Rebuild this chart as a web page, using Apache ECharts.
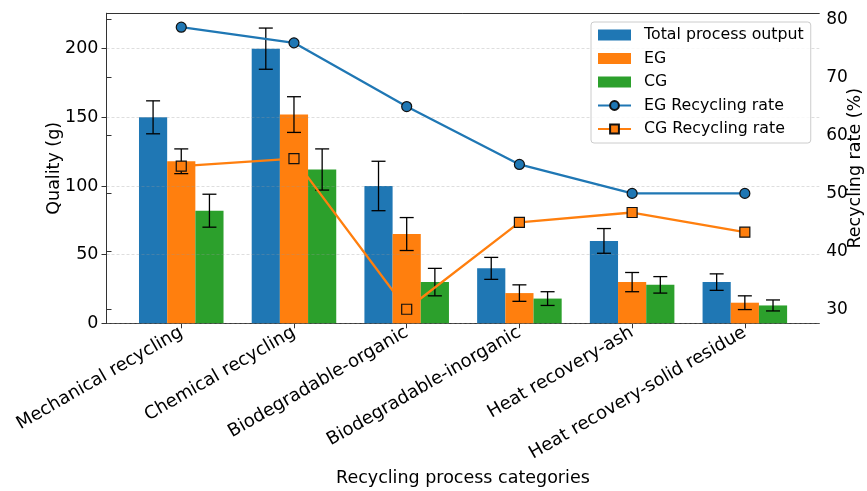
<!DOCTYPE html>
<html>
<head>
<meta charset="utf-8">
<script src="https://cdn.jsdelivr.net/npm/echarts@6/dist/echarts.min.js"></script>
<style>
  html, body { margin: 0; padding: 0; background: #fff; }
  #chart { width: 867px; height: 491px; }
</style>
</head>
<body>
<div id="chart"></div>
<script>
  const categories = ['Mechanical recycling', 'Chemical recycling', 'Biodegradable-organic',
    'Biodegradable-inorganic', 'Heat recovery-ash', 'Heat recovery-solid residue'];

  const totalOutput = [150, 200, 100, 40, 60, 30];
  const totalErr = [12, 15, 18, 8, 9, 6];
  const egValues = [118, 152, 65, 22, 30, 15];
  const egErr = [9, 13, 12, 6, 7, 5];
  const cgValues = [82, 112, 30, 18, 28, 13];
  const cgErr = [12, 15, 10, 5, 6, 4];

  const egRate = [78.7, 76, 65, 55, 50, 50];
  const cgRate = [54.7, 56, 30, 45, 46.7, 43.3];

  const leftTicks = [0, 50, 100, 150, 200];
  const rightTicks = [30, 40, 50, 60, 70, 80];

  const FONT = 'DejaVu Sans';
  const AXIS_COLOR = '#333';
  const leftMax = 225.75;
  const rightMin = 27.57, rightMax = 81.1;

  function errData(vals, errs){
    return vals.map((v, i) => [i, v - errs[i], v + errs[i]]);
  }

  // slot: -1 / 0 / 1 for the three bars of a group (each bar 25% of the band)
  function errRenderer(slot){
    return function(params, api){
      const band = api.size([1, 0])[0];
      const lo = api.coord([api.value(0), api.value(1)]);
      const hi = api.coord([api.value(0), api.value(2)]);
      const x = lo[0] + slot * band * 0.25;
      const cap = 7;
      const style = { stroke: '#000', lineWidth: 1.3 };
      return {
        type: 'group',
        children: [
          { type: 'line', shape: { x1: x, y1: lo[1], x2: x, y2: hi[1] }, style },
          { type: 'line', shape: { x1: x - cap, y1: hi[1], x2: x + cap, y2: hi[1] }, style },
          { type: 'line', shape: { x1: x - cap, y1: lo[1], x2: x + cap, y2: lo[1] }, style }
        ]
      };
    };
  }

  function errSeries(name, vals, errs, slot){
    return {
      name: name,
      type: 'custom',
      xAxisIndex: 2,
      yAxisIndex: 2,
      z: 3,
      renderItem: errRenderer(slot),
      encode: { x: 0, y: [1, 2] },
      data: errData(vals, errs),
      silent: true
    };
  }

  const chart = echarts.init(document.getElementById('chart'), null, { renderer: 'canvas' });

  const option = {
    backgroundColor: '#fff',
    animation: false,
    textStyle: { fontFamily: FONT },
    grid: [
      { left: 106.5, right: 47.7, top: 13.3, bottom: 167.7, outerBoundsMode: 'none', containLabel: false },
      { left: 124.9, right: 65.8, top: 13.3, bottom: 167.7, outerBoundsMode: 'none', containLabel: false }
    ],
    legend: {
      orient: 'vertical',
      left: 591,
      top: 22,
      padding: [5, 7, 6, 6],
      itemGap: 7.5,
      itemWidth: 33,
      itemHeight: 11,
      backgroundColor: 'rgba(255,255,255,0.8)',
      borderColor: '#ccc',
      borderWidth: 1,
      borderRadius: 3,
      z: 10,
      data: [
        { name: 'Total process output', icon: 'rect' },
        { name: 'EG', icon: 'rect' },
        { name: 'CG', icon: 'rect' },
        { name: 'EG Recycling rate' },
        { name: 'CG Recycling rate' }
      ],
      textStyle: { fontFamily: FONT, fontSize: 15.8, color: '#000', lineHeight: 16, padding: [0, 0, 0, 8] }
    },
    xAxis: [
      {
        gridIndex: 0, type: 'value', min: 0, max: 1, position: 'bottom',
        axisLine: { show: true, lineStyle: { color: AXIS_COLOR, width: 1 } },
        axisTick: { show: false }, axisLabel: { show: false }, splitLine: { show: false },
        name: 'Recycling process categories', nameLocation: 'middle', nameGap: 146,
        nameMoveOverlap: false,
        nameTextStyle: { fontFamily: FONT, fontSize: 17.5, color: '#000' }
      },
      {
        gridIndex: 0, type: 'value', min: 0, max: 1, position: 'top',
        axisLine: { show: true, lineStyle: { color: AXIS_COLOR, width: 1 } },
        axisTick: { show: false }, axisLabel: { show: false }, splitLine: { show: false }
      },
      {
        gridIndex: 1, type: 'category', data: categories, position: 'bottom',
        axisLine: { show: false },
        axisTick: { show: true, alignWithLabel: true, length: 5, lineStyle: { color: AXIS_COLOR } },
        axisLabel: { interval: 0, rotate: 30, margin: 8, fontFamily: FONT, fontSize: 18, color: '#000' },
        splitLine: { show: false }
      }
    ],
    yAxis: [
      {
        gridIndex: 0, type: 'value', min: 0, max: leftMax, position: 'left', z: 3,
        axisLine: { show: true, lineStyle: { color: AXIS_COLOR, width: 1 } },
        axisTick: { show: true, length: 5, customValues: leftTicks, lineStyle: { color: AXIS_COLOR } },
        axisLabel: { customValues: leftTicks, margin: 8, fontFamily: FONT, fontSize: 17.5, color: '#000' },
        splitLine: { show: true, lineStyle: { color: 'rgba(150,150,150,0.4)', type: [3, 2], width: 0.8 } },
        name: 'Quality (g)', nameLocation: 'middle', nameGap: 43, nameMoveOverlap: false,
        nameTextStyle: { fontFamily: FONT, fontSize: 17.5, color: '#000' }
      },
      {
        gridIndex: 0, type: 'value', min: rightMin, max: rightMax, position: 'right',
        axisLine: { show: true, lineStyle: { color: AXIS_COLOR, width: 1 } },
        axisTick: { show: true, length: 5, customValues: rightTicks, lineStyle: { color: AXIS_COLOR } },
        axisLabel: { customValues: rightTicks, margin: 7, fontFamily: FONT, fontSize: 17, color: '#000' },
        splitLine: { show: false },
        name: 'Recycling rate (%)', nameLocation: 'middle', nameGap: 27.5, nameMoveOverlap: false,
        nameTextStyle: { fontFamily: FONT, fontSize: 17.5, color: '#000' }
      },
      { gridIndex: 1, type: 'value', min: 0, max: leftMax, show: false, splitLine: { show: false } },
      { gridIndex: 1, type: 'value', min: rightMin, max: rightMax, show: false, splitLine: { show: false } }
    ],
    series: [
      {
        name: 'Total process output', type: 'bar', xAxisIndex: 2, yAxisIndex: 2,
        barWidth: '25%', barGap: '0%', itemStyle: { color: '#1f77b4' }, data: totalOutput
      },
      {
        name: 'EG', type: 'bar', xAxisIndex: 2, yAxisIndex: 2,
        barWidth: '25%', barGap: '0%', itemStyle: { color: '#ff7f0e' }, data: egValues
      },
      {
        name: 'CG', type: 'bar', xAxisIndex: 2, yAxisIndex: 2,
        barWidth: '25%', barGap: '0%', itemStyle: { color: '#2ca02c' }, data: cgValues
      },
      errSeries('err-total', totalOutput, totalErr, -1),
      errSeries('err-eg', egValues, egErr, 0),
      errSeries('err-cg', cgValues, cgErr, 1),
      {
        name: 'EG Recycling rate', type: 'line', xAxisIndex: 2, yAxisIndex: 3, z: 5,
        symbol: 'circle', symbolSize: 10,
        lineStyle: { color: '#1f77b4', width: 2.3 },
        itemStyle: { color: '#1f77b4', borderColor: '#111', borderWidth: 1.2 },
        data: egRate
      },
      {
        name: 'CG Recycling rate', type: 'line', xAxisIndex: 2, yAxisIndex: 3, z: 5,
        symbol: 'rect', symbolSize: 10,
        lineStyle: { color: '#ff7f0e', width: 2.3 },
        itemStyle: { color: '#ff7f0e', borderColor: '#111', borderWidth: 1.2 },
        data: cgRate
      }
    ]
  };

  chart.setOption(option);
  window.addEventListener('resize', () => chart.resize());
</script>
</body>
</html>
